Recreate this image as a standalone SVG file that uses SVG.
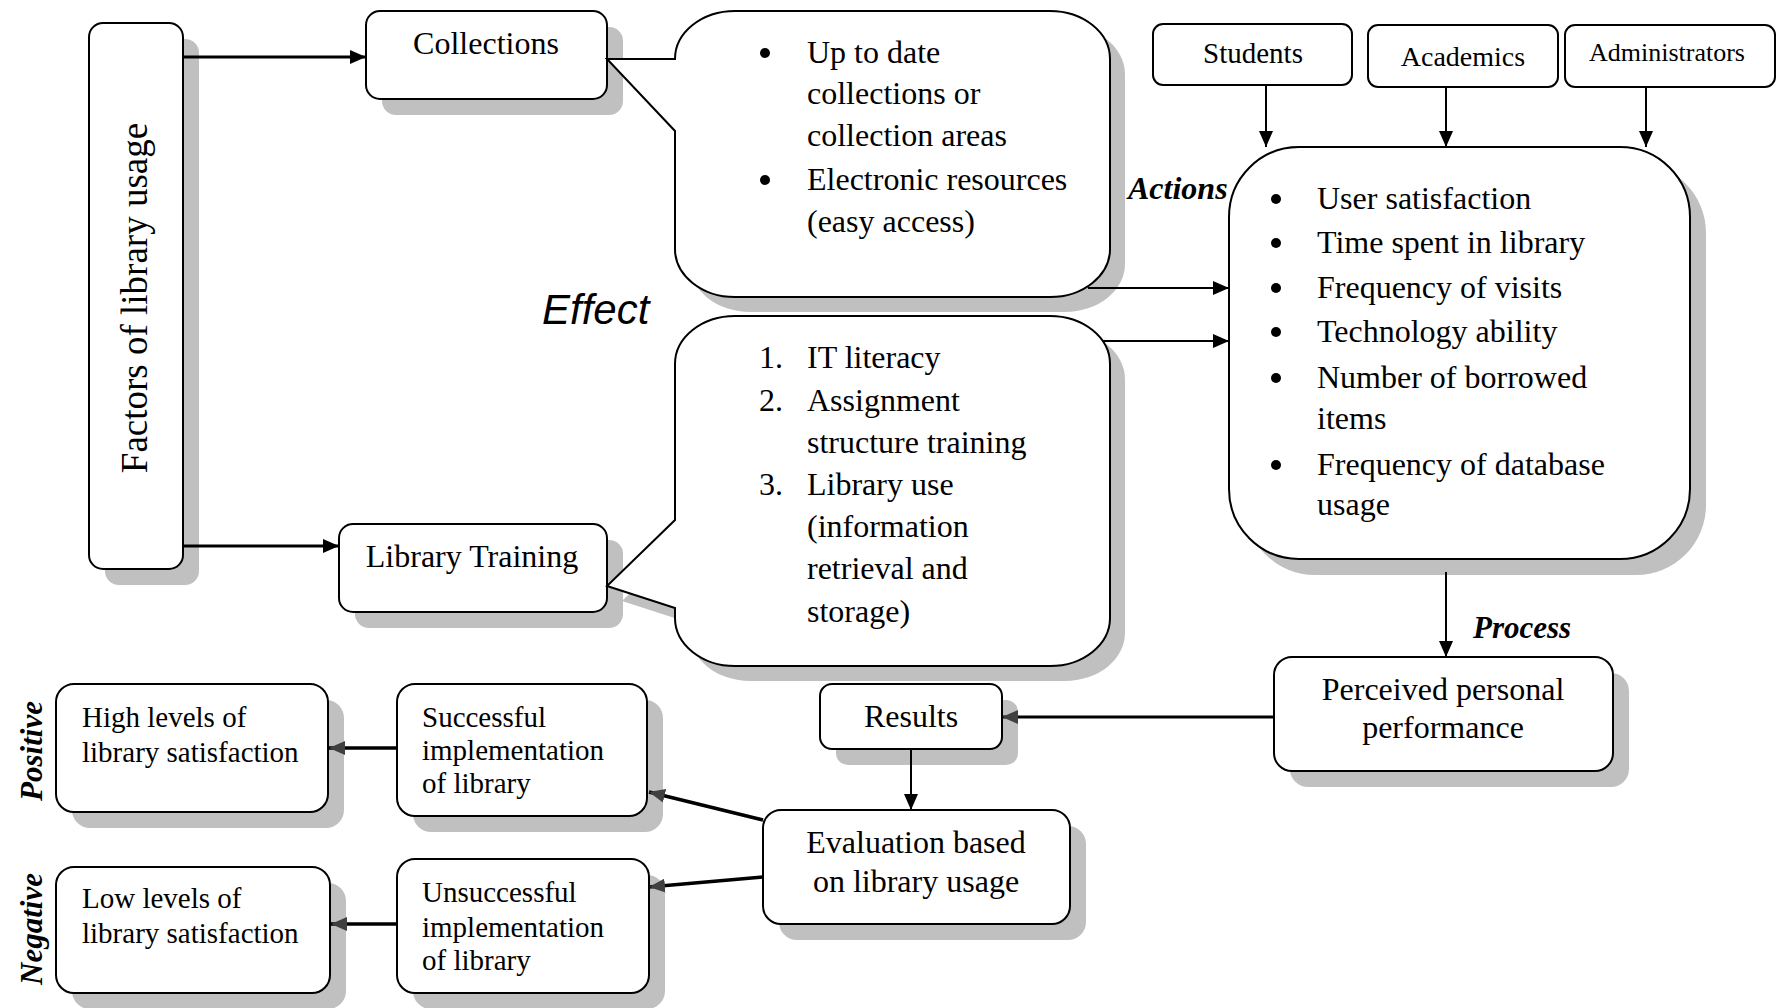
<svg xmlns="http://www.w3.org/2000/svg" width="1780" height="1008" viewBox="0 0 1780 1008">
<style>
.box{fill:#fff;stroke:#000;stroke-width:2}
.sh{fill:#c0c0c0;stroke:none}
.t{font-family:"Liberation Serif","Times New Roman",serif;font-size:32px;fill:#000}
.s29{font-size:29px}
.c{text-anchor:middle}
.bi{font-weight:bold;font-style:italic}
.ln{fill:none;stroke:#000;stroke-width:3}
.thin{stroke-width:2}
.gr{fill:none;stroke:#000;stroke-width:3.5}
</style>
<defs>
<marker id="ah" viewBox="0 0 16 14" refX="16" refY="7" markerWidth="16" markerHeight="14" markerUnits="userSpaceOnUse" orient="auto">
<path d="M0,0 L16,7 L0,14 z" fill="#000"/>
</marker>
<marker id="ag" viewBox="0 0 16 14" refX="16" refY="7" markerWidth="16" markerHeight="14" markerUnits="userSpaceOnUse" orient="auto">
<path d="M0,0 L16,7 L0,14 z" fill="#404040"/>
</marker>
</defs>
<rect width="1780" height="1008" fill="#fff"/>

<g id="shadows">
<rect class="sh" x="105" y="39" width="94" height="546" rx="14"/>
<rect class="sh" x="382" y="27" width="241" height="88" rx="14"/>
<rect class="sh" x="355" y="540" width="268" height="88" rx="14"/>
<path class="sh" transform="translate(15,15)" d="M675,59 A60,48 0 0 1 735,11 L1050,11 A60,48 0 0 1 1110,59 L1110,249 A60,48 0 0 1 1050,297 L735,297 A60,48 0 0 1 675,249 L675,131 L607,59 Z"/>
<path class="sh" transform="translate(15,15)" d="M675,364 A60,48 0 0 1 735,316 L1050,316 A60,48 0 0 1 1110,364 L1110,618 A60,48 0 0 1 1050,666 L735,666 A60,48 0 0 1 675,618 L675,608 L607,586 L675,520 Z"/>
<rect class="sh" x="1245" y="163" width="461" height="412" rx="70"/>
<rect class="sh" x="1290" y="673" width="339" height="114" rx="18"/>
<rect class="sh" x="836" y="700" width="182" height="65" rx="12"/>
<rect class="sh" x="779" y="826" width="307" height="114" rx="18"/>
<rect class="sh" x="72" y="700" width="272" height="128" rx="18"/>
<rect class="sh" x="413" y="700" width="250" height="132" rx="18"/>
<rect class="sh" x="72" y="883" width="274" height="126" rx="18"/>
<rect class="sh" x="413" y="875" width="252" height="134" rx="18"/>
</g>

<g id="connectors">
<path class="ln" d="M183,57 L366,57" marker-end="url(#ah)"/>
<path class="ln" d="M183,546 L339,546" marker-end="url(#ah)"/>
<path class="ln thin" d="M1088,288 L1229,288" marker-end="url(#ah)"/>
<path class="ln thin" d="M1100,341 L1229,341" marker-end="url(#ah)"/>
<path class="ln thin" d="M1266,85 L1266,147" marker-end="url(#ah)"/>
<path class="ln thin" d="M1446,87 L1446,147" marker-end="url(#ah)"/>
<path class="ln thin" d="M1646,87 L1646,147" marker-end="url(#ah)"/>
<path class="ln thin" d="M1446,572 L1446,657" marker-end="url(#ah)"/>
<path class="ln" d="M1274,717 L1002,717" marker-end="url(#ag)"/>
<path class="ln thin" d="M911,749 L911,810" marker-end="url(#ah)"/>
<path class="gr" d="M763,820 L649,792" marker-end="url(#ag)"/>
<path class="gr" d="M763,877 L649,887" marker-end="url(#ag)"/>
<path class="gr" d="M397,748 L329,748" marker-end="url(#ag)"/>
<path class="gr" d="M397,924 L331,924" marker-end="url(#ag)"/>
</g>

<g id="factors">
<rect class="box" x="89" y="23" width="94" height="546" rx="14"/>
<text class="t c" font-size="37" style="font-size:37px" transform="translate(147,298) rotate(-90)">Factors of library usage</text>
</g>

<g id="collections">
<rect class="box" x="366" y="11" width="241" height="88" rx="14"/>
<text class="t c" x="486" y="54">Collections</text>
</g>

<g id="training">
<rect class="box" x="339" y="524" width="268" height="88" rx="14"/>
<text class="t c" x="472" y="567">Library Training</text>
</g>

<g id="collections-callout">
<path class="box" d="M675,59 A60,48 0 0 1 735,11 L1050,11 A60,48 0 0 1 1110,59 L1110,249 A60,48 0 0 1 1050,297 L735,297 A60,48 0 0 1 675,249 L675,131 L607,59 Z"/>
<circle cx="765" cy="53" r="5"/>
<circle cx="765" cy="180" r="5"/>
<text class="t" x="807" y="63">Up to date</text>
<text class="t" x="807" y="104">collections or</text>
<text class="t" x="807" y="146">collection areas</text>
<text class="t" x="807" y="190">Electronic resources</text>
<text class="t" x="807" y="232">(easy access)</text>
</g>

<g id="training-callout">
<path class="box" d="M675,364 A60,48 0 0 1 735,316 L1050,316 A60,48 0 0 1 1110,364 L1110,618 A60,48 0 0 1 1050,666 L735,666 A60,48 0 0 1 675,618 L675,608 L607,586 L675,520 Z"/>
<text class="t" x="759" y="368">1.</text>
<text class="t" x="807" y="368">IT literacy</text>
<text class="t" x="759" y="411">2.</text>
<text class="t" x="807" y="411">Assignment</text>
<text class="t" x="807" y="453">structure training</text>
<text class="t" x="759" y="495">3.</text>
<text class="t" x="807" y="495">Library use</text>
<text class="t" x="807" y="537">(information</text>
<text class="t" x="807" y="579">retrieval and</text>
<text class="t" x="807" y="622">storage)</text>
</g>

<g id="effect-label">
<text x="542" y="324" style="font-family:'Liberation Sans',Arial,sans-serif;font-size:42px;font-style:italic">Effect</text>
</g>

<g id="students">
<rect class="box" x="1153" y="24" width="199" height="61" rx="10"/>
<text class="t c" x="1253" y="63" style="font-size:29px">Students</text>
</g>
<g id="academics">
<rect class="box" x="1368" y="25" width="190" height="62" rx="10"/>
<text class="t c" x="1463" y="66" style="font-size:28px">Academics</text>
</g>
<g id="administrators">
<rect class="box" x="1565" y="25" width="210" height="62" rx="10"/>
<text class="t c" x="1667" y="61" style="font-size:26px">Administrators</text>
</g>

<g id="actions-label">
<text class="t bi" x="1128" y="199">Actions</text>
</g>

<g id="measures">
<rect class="box" x="1229" y="147" width="461" height="412" rx="70"/>
<circle cx="1276" cy="199" r="5"/>
<circle cx="1276" cy="243" r="5"/>
<circle cx="1276" cy="288" r="5"/>
<circle cx="1276" cy="332" r="5"/>
<circle cx="1276" cy="378" r="5"/>
<circle cx="1276" cy="465" r="5"/>
<text class="t" x="1317" y="209">User satisfaction</text>
<text class="t" x="1317" y="253">Time spent in library</text>
<text class="t" x="1317" y="298">Frequency of visits</text>
<text class="t" x="1317" y="342">Technology ability</text>
<text class="t" x="1317" y="388">Number of borrowed</text>
<text class="t" x="1317" y="429">items</text>
<text class="t" x="1317" y="475">Frequency of database</text>
<text class="t" x="1317" y="515">usage</text>
</g>

<g id="process-label">
<text class="t bi" x="1473" y="638" style="font-size:31px">Process</text>
</g>

<g id="perceived">
<rect class="box" x="1274" y="657" width="339" height="114" rx="18"/>
<text class="t c" x="1443" y="700">Perceived personal</text>
<text class="t c" x="1443" y="738">performance</text>
</g>

<g id="results">
<rect class="box" x="820" y="684" width="182" height="65" rx="12"/>
<text class="t c" x="911" y="727">Results</text>
</g>

<g id="evaluation">
<rect class="box" x="763" y="810" width="307" height="114" rx="18"/>
<text class="t c" x="916" y="853">Evaluation based</text>
<text class="t c" x="916" y="892">on library usage</text>
</g>

<g id="high">
<rect class="box" x="56" y="684" width="272" height="128" rx="18"/>
<text class="t s29" x="82" y="727">High levels of</text>
<text class="t s29" x="82" y="762">library satisfaction</text>
</g>

<g id="successful">
<rect class="box" x="397" y="684" width="250" height="132" rx="18"/>
<text class="t s29" x="422" y="727">Successful</text>
<text class="t s29" x="422" y="760">implementation</text>
<text class="t s29" x="422" y="793">of library</text>
</g>

<g id="low">
<rect class="box" x="56" y="867" width="274" height="126" rx="18"/>
<text class="t s29" x="82" y="908">Low levels of</text>
<text class="t s29" x="82" y="943">library satisfaction</text>
</g>

<g id="unsuccessful">
<rect class="box" x="397" y="859" width="252" height="134" rx="18"/>
<text class="t s29" x="422" y="902">Unsuccessful</text>
<text class="t s29" x="422" y="937">implementation</text>
<text class="t s29" x="422" y="970">of library</text>
</g>

<g id="positive-label">
<text class="t bi c" transform="translate(42,751) rotate(-90)" style="font-size:31px">Positive</text>
</g>
<g id="negative-label">
<text class="t bi c" transform="translate(42,929) rotate(-90)" style="font-size:31px">Negative</text>
</g>
</svg>
